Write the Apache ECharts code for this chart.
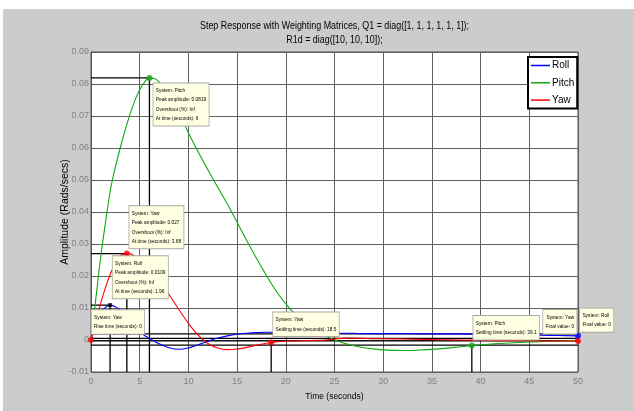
<!DOCTYPE html>
<html><head><meta charset="utf-8">
<script src="https://cdn.jsdelivr.net/npm/echarts@6/dist/echarts.min.js"></script>
<style>
html,body{margin:0;padding:0;background:#fff;width:634px;height:411px;overflow:hidden}
#bg{position:absolute;left:3px;top:9px;width:631px;height:402px;background:#cccccc}
#chart{position:absolute;left:0;top:0;width:634px;height:411px}
</style></head><body><div id="bg"></div><div id="chart"></div>
<script>
// ---------- data ----------
const titleLines = ['Step Response with Weighting Matrices, Q1 = diag([1, 1, 1, 1, 1, 1]);', 'R1d = diag([10, 10, 10]);'];
const xName = 'Time (seconds)';
const yName = 'Amplitude (Rads/secs)';
const seriesNames = ['Roll', 'Pitch', 'Yaw'];
const xMin = 0, xMax = 50, xStep = 5;
const yMin = -0.01, yMax = 0.09, yStep = 0.01;

const time  = [0,0.5,1,1.5,2,2.5,3,3.5,4,4.5,5,5.5,6,6.5,7,8,9,10,11,12,13,14,15,16,17,18,19,20,21,22,23,24,25,26,27,28,29,30,32,34,36,38,40,42,44,46,48,50];
const roll  = [0,0.0045,0.0082,0.0103,0.0109,0.0104,0.0092,0.0076,0.0059,0.0042,0.0026,0.0014,0.0006,-0.0004,-0.0012,-0.0024,-0.0029,-0.0025,-0.0015,-0.0004,0.0006,0.0013,0.0018,0.0021,0.0023,0.0024,0.0024,0.0024,0.0023,0.0023,0.0022,0.0022,0.0021,0.0021,0.0021,0.002,0.002,0.002,0.002,0.0019,0.0019,0.0019,0.0018,0.0017,0.0016,0.0015,0.0014,0.0013];
const pitch = [0,0.013,0.026,0.037,0.047,0.054,0.06,0.0655,0.0705,0.0748,0.0782,0.0806,0.0819,0.0817,0.0806,0.0768,0.0712,0.0648,0.0588,0.0532,0.0478,0.0425,0.0368,0.031,0.0255,0.0202,0.0153,0.0113,0.0079,0.0052,0.003,0.0013,0,-0.001,-0.0018,-0.0024,-0.0028,-0.0031,-0.0033,-0.0031,-0.0027,-0.0021,-0.0015,-0.0011,-0.0008,-0.0005,-0.0003,-0.0001];
const yaw   = [0,0.0055,0.0115,0.0165,0.0207,0.024,0.0262,0.0269,0.0269,0.0262,0.0251,0.0238,0.0223,0.0206,0.0187,0.0143,0.0096,0.0052,0.0015,-0.0011,-0.0025,-0.003,-0.0028,-0.0023,-0.0016,-0.001,-0.0006,-0.0004,-0.0003,-0.0002,-0.0001,0,0.0003,0.0006,0.0006,0.0005,0.0004,0.0004,0.0003,0.0002,0.0001,0,-0.0001,-0.0002,-0.0002,-0.0003,-0.0003,-0.0003];

// characteristic markers
const rollMarks  = [[50, 0.0013]];
const rollPeak   = [[1.96, 0.0109]];
const pitchMarks = [[6, 0.0819], [39.1, -0.0017]];
const yawMarks   = [[0, 0], [3.68, 0.027], [18.5, -0.0008], [50, -0.0003]];

// characteristic guide lines: horizontal [x0, x1, y], vertical [x, yTop]
const guideH = [[0, 6, 0.0819], [0, 3.68, 0.027], [0, 1.96, 0.0109], [0, 50, 0.0019], [0, 50, 0.0005], [0, 50, -0.0003], [0, 50, -0.0016]];
const guideV = [[6, 0.0819], [3.68, 0.027], [1.96, 0.0109], [18.5, -0.0008], [39.1, -0.0017]];

// data tips: anchor point + text
const tipAnchors = [[6, 0.0819], [3.68, 0.027], [1.96, 0.0109], [0, 0], [18.5, -0.0008], [39.1, -0.0017], [50, -0.0003], [50, 0.0013]];
const tipTexts = [
  ['System: Pitch', 'Peak amplitude: 0.0819', 'Overshoot (%): Inf', 'At time (seconds): 6'],
  ['System: Yaw', 'Peak amplitude: 0.027', 'Overshoot (%): Inf', 'At time (seconds): 3.68'],
  ['System: Roll', 'Peak amplitude: 0.0109', 'Overshoot (%): Inf', 'At time (seconds): 1.96'],
  ['System: Yaw', 'Rise time (seconds): 0'],
  ['System: Yaw', 'Settling time (seconds): 18.5'],
  ['System: Pitch', 'Settling time (seconds): 39.1'],
  ['System: Yaw', 'Final value: 0'],
  ['System: Roll', 'Final value: 0']
];

// ---------- layout / style ----------
const REG = "'Liberation Sans', Arial, sans-serif";
const colors = {Roll: '#0000ff', Pitch: '#11a811', Yaw: '#ff0000'};
const tipPlace = [
  {dx: 4, dy: 5.5, align: 'left', va: 'top'},
  {dx: 2.5, dy: -5.3, align: 'left', va: 'bottom'},
  {dx: 2.6, dy: -6.8, align: 'left', va: 'bottom'},
  {dx: 0.7, dy: -6.3, align: 'left', va: 'bottom'},
  {dx: 2, dy: -6.6, align: 'left', va: 'bottom'},
  {dx: 1.5, dy: -6, align: 'left', va: 'bottom'},
  {dx: -1.5, dy: -7.5, align: 'right', va: 'bottom'},
  {dx: 2, dy: -4, align: 'left', va: 'bottom'}
];
const NARROW_SCALE = 0.8;

const chart = echarts.init(document.getElementById('chart'), null, {renderer: 'canvas'});

const zip = (xs, ys) => xs.map((x, i) => [x, ys[i]]);
const curves = {Roll: roll, Pitch: pitch, Yaw: yaw};

const series = [];
guideH.forEach(g => series.push({type: 'line', silent: true, symbol: 'none', z: 2, data: [[g[0], g[2]], [g[1], g[2]]], lineStyle: {color: '#000', width: 1.3}}));
guideV.forEach(g => series.push({type: 'line', silent: true, symbol: 'none', z: 2, data: [[g[0], g[1]], [g[0], yMin]], lineStyle: {color: '#000', width: 1.3}}));
seriesNames.forEach(n => series.push({name: n, type: 'line', smooth: 0.35, symbol: 'none', showSymbol: false, z: 3, data: zip(time, curves[n]), lineStyle: {color: colors[n], width: 1.1}, itemStyle: {color: colors[n]}}));
series.push({type: 'scatter', silent: true, z: 5, symbol: 'circle', symbolSize: 6, itemStyle: {color: colors.Roll}, data: rollMarks});
series.push({type: 'scatter', silent: true, z: 5, symbol: 'rect', symbolSize: 4, itemStyle: {color: '#000'}, data: rollPeak});
series.push({type: 'scatter', silent: true, z: 5, symbol: 'circle', symbolSize: 6, itemStyle: {color: colors.Pitch}, data: pitchMarks});
series.push({type: 'scatter', silent: true, z: 5, symbol: 'circle', symbolSize: 6, itemStyle: {color: colors.Yaw}, data: yawMarks});

const fmtY = v => { const r = Math.round(v * 100) / 100; return r === 0 ? '0' : String(r); };

chart.setOption({
  animation: false,
  backgroundColor: 'transparent',
  grid: {left: 91, right: 56, top: 52, bottom: 39, show: true, backgroundColor: '#ffffff', borderColor: '#555', borderWidth: 1},
  legend: {
    data: seriesNames.map(n => ({name: n, icon: 'rect', itemStyle: {color: colors[n]}})),
    orient: 'vertical', left: 528, top: 57,
    backgroundColor: '#fff', borderColor: '#000', borderWidth: 2, borderRadius: 0,
    padding: [2, 3, 2, 3], itemWidth: 19, itemHeight: 1.5, itemGap: 4.3,
    textStyle: {fontFamily: REG, fontSize: 10, lineHeight: 13, color: '#000', padding: [0, 0, 0, -3]}
  },
  xAxis: {
    type: 'value', min: xMin, max: xMax, interval: xStep,
    name: xName, nameLocation: 'middle', nameGap: 20,
    nameTextStyle: {fontFamily: REG, fontSize: 8.5, color: '#000'},
    axisLine: {lineStyle: {color: '#555', width: 1}},
    axisTick: {inside: true, length: 3, lineStyle: {color: '#555'}},
    axisLabel: {fontFamily: REG, fontSize: 9, color: '#808080', margin: 5},
    splitLine: {show: true, lineStyle: {color: '#5f5f5f', width: 1}}
  },
  yAxis: {
    type: 'value', min: yMin, max: yMax, interval: yStep,
    name: yName, nameLocation: 'middle', nameGap: 20, nameRotate: 90, nameMoveOverlap: false,
    nameTextStyle: {fontFamily: REG, fontSize: 10.5, color: '#000'},
    axisLine: {lineStyle: {color: '#555', width: 1}},
    axisTick: {inside: true, length: 3, lineStyle: {color: '#555'}},
    axisLabel: {fontFamily: REG, fontSize: 9, color: '#808080', margin: 2, formatter: fmtY},
    splitLine: {show: true, lineStyle: {color: '#5f5f5f', width: 1}}
  },
  series: series
});

const graphics = [];
graphics.push({type: 'text', x: 334.5, y: 26, z: 50, scaleX: 0.775, style: {text: titleLines[0], fontFamily: REG, fontSize: 11.5, fill: '#000', align: 'center', verticalAlign: 'middle'}});
graphics.push({type: 'text', x: 334.5, y: 39.5, z: 50, scaleX: 0.775, style: {text: titleLines[1], fontFamily: REG, fontSize: 11.5, fill: '#000', align: 'center', verticalAlign: 'middle'}});
tipAnchors.forEach((a, i) => {
  const p = chart.convertToPixel({gridIndex: 0}, a);
  const pl = tipPlace[i];
  graphics.push({type: 'text', x: p[0] + pl.dx, y: p[1] + pl.dy, z: 100, scaleX: NARROW_SCALE, style: {
    text: tipTexts[i].join('\n'), fontFamily: REG, fontSize: 6, lineHeight: 9.3, fill: '#000',
    align: pl.align, verticalAlign: pl.va, backgroundColor: '#ffffe1', borderColor: '#a8a8a0', borderWidth: 1,
    padding: [2.4, 3, 2.4, 3]
  }});
});
chart.setOption({graphic: graphics});
</script></body></html>
